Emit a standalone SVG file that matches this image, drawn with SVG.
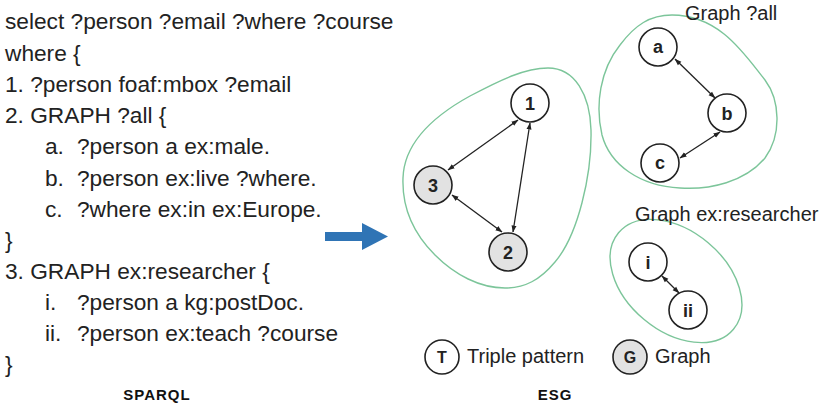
<svg xmlns="http://www.w3.org/2000/svg" width="821" height="412" viewBox="0 0 821 412">
<defs>
<marker id="ah" markerWidth="7" markerHeight="6" refX="6.5" refY="3" orient="auto-start-reverse" markerUnits="userSpaceOnUse">
<path d="M0,0.5 L7,3 L0,5.5 Z" fill="#222"/>
</marker>
</defs>
<style>
.code{font-family:"Liberation Sans",Arial,sans-serif;font-size:22.7px;fill:#222}
.cap{font-family:"Liberation Sans",Arial,sans-serif;font-size:15px;font-weight:bold;fill:#111;letter-spacing:1px}
.lbl{font-family:"Liberation Sans",Arial,sans-serif;font-size:20px;fill:#222}
.node{fill:#fff;stroke:#222;stroke-width:1.6}
.gnode{fill:#e2e2e2;stroke:#222;stroke-width:1.6}
.nt{font-family:"Liberation Sans",Arial,sans-serif;font-size:18px;font-weight:bold;fill:#222;text-anchor:middle}
.blob{fill:none;stroke:#7cc59a;stroke-width:1.4}
.edge{stroke:#222;stroke-width:1.3;fill:none;marker-start:url(#ah);marker-end:url(#ah)}
</style>
<rect width="821" height="412" fill="#fff"/>
<g id="sparql">
<text class="code" x="5" y="29">select ?person ?email ?where ?course</text>
<text class="code" x="5" y="61">where {</text>
<text class="code" x="5" y="92">1. ?person foaf:mbox ?email</text>
<text class="code" x="5" y="123">2. GRAPH ?all {</text>
<text class="code" x="45" y="154">a.</text><text class="code" x="77" y="154">?person a ex:male.</text>
<text class="code" x="45" y="186">b.</text><text class="code" x="77" y="186">?person ex:live ?where.</text>
<text class="code" x="45" y="217">c.</text><text class="code" x="77" y="217">?where ex:in ex:Europe.</text>
<text class="code" x="5" y="248">}</text>
<text class="code" x="5" y="279">3. GRAPH ex:researcher {</text>
<text class="code" x="45" y="310">i.</text><text class="code" x="77" y="310">?person a kg:postDoc.</text>
<text class="code" x="45" y="341">ii.</text><text class="code" x="77" y="341">?person ex:teach ?course</text>
<text class="code" x="5" y="372">}</text>
<text class="cap" x="157" y="400" text-anchor="middle">SPARQL</text>
</g>
<g id="arrow">
<path d="M325,232 L362,232 L362,223 L388,236.5 L362,250 L362,241 L325,241 Z" fill="#2f74b5"/>
</g>
<g id="blobs">
<path class="blob" d="M548,68 C575,68 590,95 591,130 C592,175 578,235 555,262 C540,280 525,288 505,288 C480,288 455,275 435,255 C412,232 402,205 403,178 C404,145 430,118 470,96 C500,80 525,68 548,68 Z"/>
<path class="blob" d="M672,15 C720,15 745,55 765,80 C780,100 782,135 765,158 C745,182 710,190 680,188 C640,186 610,165 602,135 C595,105 600,70 620,45 C635,25 650,15 672,15 Z"/>
<ellipse class="blob" cx="676" cy="281" rx="75" ry="50" transform="rotate(40 676 281)"/>
<text class="lbl" x="685" y="20">Graph ?all</text>
<text class="lbl" x="635" y="221">Graph ex:researcher</text>
</g>
<g id="connectors">
<line class="edge" x1="448" y1="170" x2="518" y2="120"/>
<line class="edge" x1="530" y1="123" x2="513" y2="232"/>
<line class="edge" x1="452" y1="195" x2="502" y2="232"/>
<line class="edge" x1="675" y1="59" x2="715" y2="98"/>
<line class="edge" x1="720" y1="132" x2="680" y2="158"/>
<line class="edge" x1="662" y1="276" x2="679" y2="293"/>
</g>
<g id="n1"><circle class="node" cx="530" cy="103" r="19"/><text class="nt" x="530" y="109.5">1</text></g>
<g id="n3"><circle class="gnode" cx="433" cy="185" r="19"/><text class="nt" x="433" y="191.5">3</text></g>
<g id="n2"><circle class="gnode" cx="508" cy="252" r="19"/><text class="nt" x="508" y="258.5">2</text></g>
<g id="na"><circle class="node" cx="658" cy="47" r="19"/><text class="nt" x="658" y="53">a</text></g>
<g id="nb"><circle class="node" cx="727" cy="113" r="19"/><text class="nt" x="727" y="119.5">b</text></g>
<g id="nc"><circle class="node" cx="660" cy="163" r="19"/><text class="nt" x="660" y="169">c</text></g>
<g id="ni"><circle class="node" cx="648" cy="262" r="19"/><text class="nt" x="648" y="268.5">i</text></g>
<g id="nii"><circle class="node" cx="688" cy="310" r="19"/><text class="nt" x="688" y="316.5">ii</text></g>
<g id="legend">
<circle class="node" cx="442" cy="357" r="17"/><text class="nt" x="442" y="363" style="font-size:16px">T</text>
<text class="lbl" x="467" y="363">Triple pattern</text>
<circle class="gnode" cx="630" cy="357" r="17"/><text class="nt" x="630" y="363" style="font-size:16px">G</text>
<text class="lbl" x="655" y="363">Graph</text>
<text class="cap" x="555" y="400" text-anchor="middle">ESG</text>
</g>
</svg>
